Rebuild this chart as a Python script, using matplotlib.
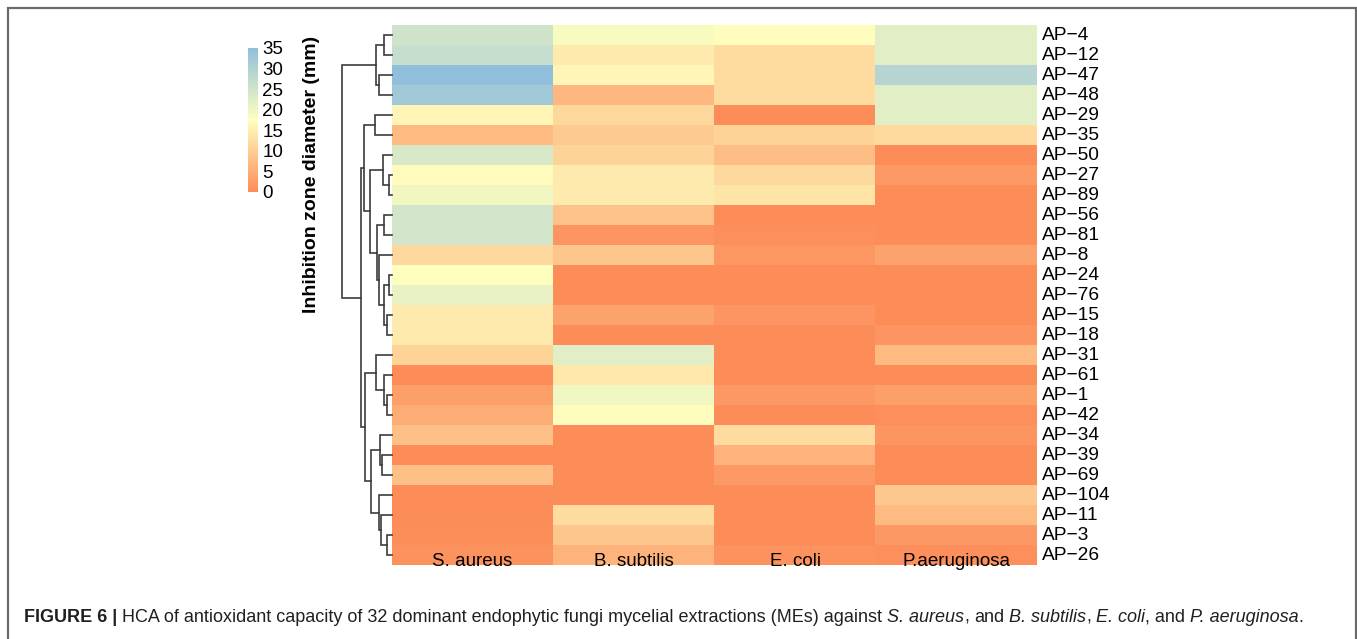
import matplotlib
matplotlib.use("Agg")
import matplotlib.pyplot as plt
import numpy as np
from matplotlib.colors import LinearSegmentedColormap
from matplotlib.patches import Rectangle

plt.rcParams['font.family'] = ['Liberation Sans', 'DejaVu Sans']

# ---------------- data ----------------
strains = ["AP-4", "AP-12", "AP-47", "AP-48", "AP-29", "AP-35", "AP-50", "AP-27",
           "AP-89", "AP-56", "AP-81", "AP-8", "AP-24", "AP-76", "AP-15", "AP-18",
           "AP-31", "AP-61", "AP-1", "AP-42", "AP-34", "AP-39", "AP-69", "AP-104",
           "AP-11", "AP-3", "AP-26"]
bacteria = ["S. aureus", "B. subtilis", "E. coli", "P.aeruginosa"]

s_aureus = [25, 26.5, 35, 32.5, 16, 7.2, 23.4, 17, 19.5, 24.6, 24.6, 11.4, 17.5, 20.8,
            14.4, 14.4, 10.9, 0, 2.9, 4.9, 8.1, 0, 8.1, 0, 0, 0.3, 1]
b_subtilis = [18.5, 14.4, 16, 6.6, 11.5, 9.7, 10.9, 14.4, 14.4, 8.3, 1.5, 8.8, 0, 0,
              3.5, 0, 22, 14.1, 19.6, 17.3, 0, 0, 0, 0, 12.1, 8.8, 6]
e_coli = [17.3, 12.1, 12.1, 12.1, 0, 10.9, 7.4, 11.7, 13.5, 0, 0.5, 1.7, 0, 0,
          1.5, 0, 0, 0, 1.8, 0, 12.1, 6, 2, 0, 0, 0, 1]
p_aeruginosa = [22, 22, 29, 22, 22, 12, 0, 2, 0, 0, 0, 3.5, 0, 0, 0, 1.5,
                7, 0, 3, 0.5, 1.5, 0, 0, 9.2, 7, 1.8, 0.5]

cbar_ticks = [0, 5, 10, 15, 20, 25, 30, 35]

# dendrogram: [merge height, left, right]
tree = [50,
        [16.3, [7.7, "AP-4", "AP-12"], [12.7, "AP-47", "AP-48"]],
        [31,
         [27.7,
          [17, "AP-29", "AP-35"],
          [21.7,
           [9.3, "AP-50", [3, "AP-27", "AP-89"]],
           [15.3,
            [8, "AP-56", "AP-81"],
            [13.3, "AP-8", [8, [3, "AP-24", "AP-76"], [5, "AP-15", "AP-18"]]]]]],
         [27.3,
          [16.3, "AP-31", [8.3, "AP-61", [4.7, "AP-1", "AP-42"]]],
          [21.3,
           [12, "AP-34", [10.3, "AP-39", "AP-69"]],
           [13, "AP-104", [11.3, "AP-11", [4.7, "AP-3", "AP-26"]]]]]]]

caption_parts = [("FIGURE 6 |", "bold", "normal"),
                 ("HCA of antioxidant capacity of 32 dominant endophytic fungi mycelial extractions (MEs) against", "normal", "normal"),
                 ("S. aureus", "normal", "italic"),
                 (",", "normal", "normal"),
                 ("and", "normal", "normal"),
                 ("B. subtilis", "normal", "italic"),
                 (",", "normal", "normal"),
                 ("E. coli", "normal", "italic"),
                 (", and", "normal", "normal"),
                 ("P. aeruginosa", "normal", "italic"),
                 (".", "normal", "normal")]
no_space_before = {3, 6, 8, 10}

# ---------------- figure ----------------
W, H = 1357, 639
fig = plt.figure(figsize=(W / 100, H / 100), dpi=100)


def fx(px):
    return px / W


def fy(py):
    return 1 - py / H


cmap = LinearSegmentedColormap.from_list("hz", ["#FC8D59", "#FFFFBF", "#91BFDB"])
data = np.array([s_aureus, b_subtilis, e_coli, p_aeruginosa]).T
n_rows, n_cols = data.shape

hx0, hx1, hy0, hy1 = 392, 1037, 25, 565
ax = fig.add_axes([fx(hx0), fy(hy1), fx(hx1 - hx0), (hy1 - hy0) / H])
im = ax.imshow(data, cmap=cmap, vmin=0, vmax=35, aspect="auto",
               extent=[0, n_cols, n_rows, 0], interpolation="nearest")
ax.set_xlim(0, n_cols)
ax.set_ylim(n_rows, 0)
for s in ax.spines.values():
    s.set_visible(False)
ax.set_xticks([])
ax.set_yticks([])
for j, b in enumerate(bacteria):
    ax.text(j + 0.5, n_rows - 0.2, b, ha="center", va="center", fontsize=13.5, color="black")
for i, st in enumerate(strains):
    ax.text(n_cols + 0.03, i + 0.5, st.replace("-", "\u2212"), ha="left", va="center",
            fontsize=13.8, color="black", clip_on=False)

# dendrogram
dx0 = 335
dax = fig.add_axes([fx(dx0), fy(hy1), fx(hx0 - dx0), (hy1 - hy0) / H])
dax.set_xlim(hx0 - dx0, 0)
dax.set_ylim(n_rows, 0)
dax.axis("off")
order = {s: i for i, s in enumerate(strains)}


def draw(node):
    if isinstance(node, str):
        return order[node] + 0.5, 0.0
    h, left, right = node
    yl, hl = draw(left)
    yr, hr = draw(right)
    dax.plot([hl, h, h, hr], [yl, yl, yr, yr], color="#3c3c3c", lw=1.2,
             solid_joinstyle="miter", clip_on=False)
    return (yl + yr) / 2, h


draw(tree)

# colorbar
cax = fig.add_axes([fx(248), fy(192), fx(10), 144 / H])
cb = fig.colorbar(im, cax=cax, ticks=cbar_ticks)
cb.outline.set_visible(False)
cax.tick_params(length=0, labelsize=13.5, pad=3)
fig.text(fx(311), fy(174), "Inhibition zone diameter (mm)", rotation=90,
         ha="center", va="center", fontsize=14, fontweight="bold")

# caption box
fig.patches.append(Rectangle((fx(8), -0.05), fx(1356 - 8), fy(8) + 0.05, fill=False,
                             edgecolor="#6b6b6b", lw=1.6, transform=fig.transFigure,
                             figure=fig))

# caption text built piecewise
renderer = fig.canvas.get_renderer()
cap_size = 13
probe1 = fig.text(0, 0, "a a", fontsize=cap_size)
probe2 = fig.text(0, 0, "aa", fontsize=cap_size)
space_w = (probe1.get_window_extent(renderer).width -
           probe2.get_window_extent(renderer).width)
probe1.remove()
probe2.remove()
x = 24.0
y_cap = fy(622)
for k, (txt, wt, st) in enumerate(caption_parts):
    if k > 0 and k not in no_space_before:
        x += space_w
    t = fig.text(fx(x), y_cap, txt, fontsize=cap_size, fontweight=wt, fontstyle=st,
                 ha="left", va="baseline", color="#231f20")
    x += t.get_window_extent(renderer).width

fig.savefig("out.png", dpi=100)
